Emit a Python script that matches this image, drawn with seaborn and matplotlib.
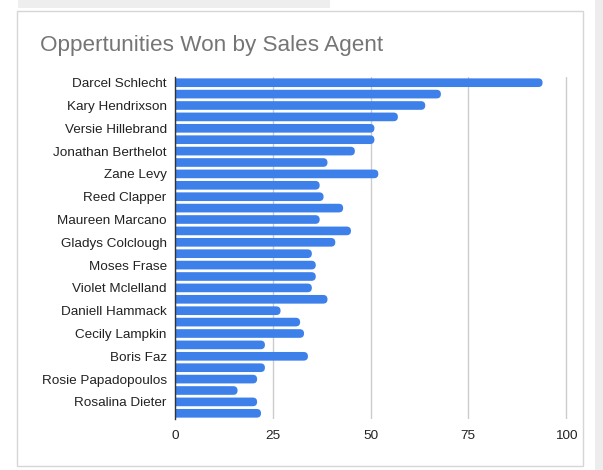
import matplotlib
matplotlib.use("Agg")
import matplotlib.pyplot as plt
import seaborn as sns
import pandas as pd
from matplotlib.patches import Rectangle, FancyBboxPatch

agents = [
    "Darcel Schlecht", "Vicki Laflamme", "Kary Hendrixson", "Cassey Cress",
    "Versie Hillebrand", "Donn Cantrell", "Jonathan Berthelot", "Corliss Cosme",
    "Zane Levy", "James Ascencio", "Reed Clapper", "Markita Hansen",
    "Maureen Marcano", "Kami Bicknell", "Gladys Colclough", "Elease Gluck",
    "Moses Frase", "Lajuana Vencill", "Violet Mclelland", "Hayden Neloms",
    "Daniell Hammack", "Niesha Huffines", "Cecily Lampkin", "Anna Snelling",
    "Boris Faz", "Marty Freudenburg", "Rosie Papadopoulos", "Garret Kinder",
    "Rosalina Dieter", "Wilburn Farren",
]
won = [94, 68, 64, 57, 51, 51, 46, 39, 52, 37, 38, 43, 37, 45, 41,
       35, 36, 36, 35, 39, 27, 32, 33, 23, 34, 23, 21, 16, 21, 22]
x_ticks = [0, 25, 50, 75, 100]
title = "Oppertunities Won by Sales Agent"

df = pd.DataFrame({"agent": agents, "won": won})

sns.set_theme(style="white")
plt.rcParams["font.family"] = ["Liberation Sans", "DejaVu Sans"]

BLUE = "#3e80ea"
fig = plt.figure(figsize=(6.03, 4.70), dpi=100)

# background decorations (card, top strip, right strip)
fig.patches.append(Rectangle((18/603, 1 - 8/470), 312/603, 8/470,
                             transform=fig.transFigure, facecolor="#eeeeee",
                             edgecolor="none", zorder=-2))
fig.patches.append(Rectangle((17/603, 1 - 466/470), 566/603, 455/470,
                             transform=fig.transFigure, facecolor="white",
                             edgecolor="#d6d6d6", linewidth=1, zorder=-2))
fig.patches.append(Rectangle((595/603, 0), 8/603, 1,
                             transform=fig.transFigure, facecolor="#ededed",
                             edgecolor="none", zorder=-2))

ax_w_px, ax_h_px = 393, 342
XMAX = 100.5
ax = fig.add_axes([175/603, 51/470, ax_w_px/603, ax_h_px/470])
ax.set_zorder(2)
ax.set_facecolor("none")

sns.barplot(data=df, y="agent", x="won", orient="h", color=BLUE,
            saturation=1, width=0.76, ax=ax)

ax.set_xlim(0, XMAX)
ax.set_ylim(len(agents) - 0.5, -0.5)

# round the bar ends (Google-Charts look)
xu = XMAX / ax_w_px           # data units per px horizontally
yu = len(agents) / ax_h_px    # data units per px vertically
for p in list(ax.patches):
    x0, y0 = p.get_x(), p.get_y()
    w, h = p.get_width(), p.get_height()
    hpx = abs(h) / yu
    r = (hpx / 2) * xu
    fb = FancyBboxPatch((x0 - r, min(y0, y0 + h)), w + r, abs(h),
                        boxstyle=f"round,pad=0,rounding_size={r}",
                        mutation_aspect=yu / xu,
                        facecolor=BLUE, edgecolor="none", zorder=3)
    ax.add_patch(fb)
    p.set_visible(False)

ax.set_xticks(x_ticks)
ax.set_xticklabels([str(t) for t in x_ticks], fontsize=9.7, color="#222222")
ax.set_yticks(range(0, len(agents), 2))
ax.set_yticklabels(agents[::2], fontsize=9.7, color="#222222")
ax.tick_params(axis="both", length=0, pad=6)
ax.tick_params(axis="x", pad=8)
ax.set_xlabel("")
ax.set_ylabel("")
ax.grid(axis="x", color="#cccccc", linewidth=1, zorder=0)
ax.set_axisbelow(True)
for s in ["top", "right", "bottom"]:
    ax.spines[s].set_visible(False)
ax.spines["left"].set_color("#333333")
ax.spines["left"].set_linewidth(1)
ax.spines["left"].set_zorder(4)

fig.text(40/603, 1 - 45/470, title, fontsize=16.2, color="#757575",
         va="center", ha="left", zorder=3)

fig.savefig("out.png", dpi=100)
